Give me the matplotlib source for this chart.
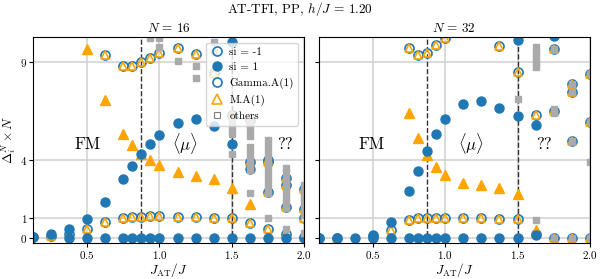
import matplotlib.pyplot as plt
from matplotlib.lines import Line2D

# --- data (Delta_i^N x N vs J_AT/J) ---
# N = 16
n16_si1_x = [0.125, 0.25, 0.375, 0.5, 0.625, 0.75, 0.8125, 0.875, 0.9375, 1.0,
             1.125, 1.25, 1.375, 1.5, 1.625,
             0.375, 0.5, 0.625, 0.75, 0.8125, 0.875, 0.9375, 1.0, 1.125, 1.25,
             1.375, 1.5, 1.625, 1.75, 1.875, 2.0, 1.5]
n16_si1_y = [0.08, 0.2, 0.45, 0.97, 1.85, 3.0, 3.67, 4.27, 4.8, 5.28,
             5.87, 6.05, 5.7, 4.8, 3.5,
             0, 0, 0, 0, 0, 0, 0, 0, 0, 0,
             0, 0, 0, 0, 0, 0, 10.0]
n16_sim1_x = [0.125, 0.25, 0.375, 0.5, 0.625, 0.75, 0.8125, 0.875, 0.9375, 1.0,
              1.125, 1.25, 1.375, 1.5, 1.625, 1.75, 1.875, 2.0,
              0.625, 0.75, 0.8125, 0.875, 0.9375, 1.0, 1.125, 1.25, 1.375,
              1.5, 1.625, 1.625, 1.75, 1.75, 1.75, 1.875, 1.875, 1.875,
              2.0, 2.0, 2.0]
n16_sim1_y = [0.05, 0.1, 0.22, 0.45, 0.8, 1.03, 1.08, 1.1, 1.12, 1.12,
              1.1, 1.07, 1.05, 1.0, 0.78, 0.45, 0.2, 0.05,
              9.36, 8.77, 8.8, 9.0, 9.2, 9.45, 9.69, 9.4, 8.4,
              6.26, 6.0, 3.88, 4.0, 3.87, 2.34, 3.05, 2.7, 1.58,
              2.5, 1.5, 1.0]
n16_m1_x = [0.5, 0.625, 0.75, 0.8125, 0.875, 0.9375, 1.0, 1.125, 1.25, 1.375,
            1.5, 1.625]
n16_m1_y = [9.65, 7.02, 5.29, 4.73, 4.27, 3.97, 3.75, 3.37, 3.17, 2.99,
            2.58, 1.75]
n16_oth_x = [0.9375, 1.0, 1.0, 1.125, 1.25, 1.25, 1.375, 1.375,
             1.5, 1.5, 1.5, 1.5,
             1.625, 1.625, 1.625, 1.625, 1.625, 1.625, 1.625, 1.625, 1.625, 1.625,
             1.75, 1.75, 1.75, 1.75, 1.75, 1.75, 1.75, 1.75, 1.75, 1.75, 1.75,
             1.875, 1.875, 1.875, 1.875, 1.875, 1.875, 1.875, 1.875, 1.875, 1.875,
             2.0, 2.0, 2.0, 2.0, 2.0, 2.0, 2.0, 2.0]
n16_oth_y = [10.2, 10.2, 9.75, 9.05, 8.8, 8.16, 10.0, 9.5,
             5.95, 5.6, 5.3, 4.27,
             5.75, 5.5, 5.2, 4.65, 4.35, 4.05, 3.75, 3.46, 2.3, 6.1,
             5.0, 4.7, 4.4, 4.1, 3.8, 3.5, 3.2, 2.9, 2.6, 2.3, 1.0,
             3.55, 3.3, 3.05, 2.8, 2.55, 2.3, 2.05, 1.8, 1.55, 0.45,
             2.7, 2.45, 2.2, 1.95, 1.7, 1.45, 1.2, 0.25]

# N = 32
n32_si1_x = [0.125, 0.25, 0.375, 0.5, 0.625, 0.75, 0.8125, 0.875, 0.9375, 1.0,
             1.125, 1.25, 1.375, 1.5,
             0.5, 0.625, 0.75, 0.8125, 0.875, 0.9375, 1.0, 1.125, 1.25, 1.375,
             1.5, 1.625, 1.5, 1.625, 1.75]
n32_si1_y = [0, 0, 0, 0, 0, 0, 0, 0, 0, 0,
             0, 0, 0, 0,
             0.15, 0.8, 2.39, 3.43, 4.43, 5.33, 6.07, 6.86, 6.99, 6.63,
             6.22, 5.79, 10.08, 0.15, 10.3]
n32_sim1_x = [0.125, 0.25, 0.5, 0.625, 0.75, 0.8125, 0.875, 0.9375, 1.0,
              1.125, 1.25, 1.375, 1.5, 1.625, 1.75, 1.875, 2.0,
              0.75, 0.8125, 0.875, 0.9375, 1.0, 1.375, 1.5, 1.625,
              1.75, 1.75, 1.875, 1.875, 1.875, 2.0, 2.0]
n32_sim1_y = [0.0, 0.02, 0.12, 0.4, 0.92, 1.03, 1.05, 1.05, 1.05,
              1.02, 1.0, 0.98, 0.97, 0.2, 0.0, 0.0, 0.0,
              9.7, 9.35, 9.45, 9.86, 10.2, 9.82, 8.45, 6.3,
              9.62, 6.5, 7.85, 7.45, 4.95, 8.35, 5.9]
n32_m1_x = [0.75, 0.8125, 0.875, 0.9375, 1.0, 1.125, 1.25, 1.375, 1.5, 1.625]
n32_m1_y = [6.38, 5.1, 4.22, 3.63, 3.24, 2.83, 2.7, 2.58, 2.24, 0.4]
n32_oth_x = [1.5, 1.625, 1.625, 1.625, 1.625, 1.625, 1.625,
             1.75, 1.75, 1.75, 1.75, 1.875, 1.875, 1.875, 1.875,
             2.0, 2.0, 2.0, 2.0]
n32_oth_y = [7.07, 9.75, 9.5, 9.25, 9.0, 8.75, 0.92,
             9.62, 6.6, 6.4, 0.0, 7.85, 7.45, 4.95, 0.0,
             8.35, 5.9, 3.9, 0.0]

sizes = [16, 32]
phase_lines = [0.875, 1.5]
y_ticks = [0, 1, 4, 9]
x_ticks = [0.5, 1.0, 1.5, 2.0]

plt.rcParams['font.family'] = 'serif'
plt.rcParams['font.serif'] = ['cmr10']
plt.rcParams['mathtext.fontset'] = 'cm'
plt.rcParams['axes.formatter.use_mathtext'] = True

blue = '#1f77b4'
orange = '#ffa500'
gray = '#aaaaaa'

fig, axes = plt.subplots(1, 2, figsize=(6, 2.79), dpi=100, sharey=True)
fig.subplots_adjust(left=0.055, right=0.983, bottom=0.129, top=0.867, wspace=0.055)

panels = [
    (n16_si1_x, n16_si1_y, n16_sim1_x, n16_sim1_y, n16_m1_x, n16_m1_y, n16_oth_x, n16_oth_y),
    (n32_si1_x, n32_si1_y, n32_sim1_x, n32_sim1_y, n32_m1_x, n32_m1_y, n32_oth_x, n32_oth_y),
]
text_pos = [(0.5, 1.18, 1.87), (0.49, 1.18, 1.68)]

for ax, N, data, tp in zip(axes, sizes, panels, text_pos):
    sx, sy, ox, oy, mx, my, gx, gy = data
    ax.grid(True, color='#d0d0d0', lw=1.1, zorder=0)
    ax.plot(ox, oy, 'o', ms=6.5, mfc='none', mec=blue, mew=1.2, ls='none', zorder=3)
    ax.plot(ox, oy, '^', ms=6, mfc='none', mec=orange, mew=1.2, ls='none', zorder=3)
    ax.plot(mx, my, '^', ms=7, color=orange, ls='none', zorder=3)
    ax.plot(sx, sy, 'o', ms=6.5, color=blue, ls='none', zorder=3)
    ax.plot(gx, gy, 's', ms=5, color=gray, ls='none', zorder=4)
    for xv in phase_lines:
        ax.axvline(xv, color='#333333', ls='--', lw=1, zorder=2)
    ax.text(tp[0], 4.8, 'FM', fontsize=12, ha='center', va='center')
    ax.text(tp[1], 4.8, r'$\langle\mu\rangle$', fontsize=12, ha='center', va='center')
    ax.text(tp[2], 4.8, '??', fontsize=12, ha='center', va='center')
    ax.set_xlim(0.125, 2.0)
    ax.set_ylim(-0.25, 10.25)
    ax.set_xticks(x_ticks)
    ax.set_yticks(y_ticks)
    ax.tick_params(labelsize=8, length=3, pad=1)
    ax.set_xlabel(r'$J_{\rm AT}/J$', fontsize=9.5)
    ax.xaxis.set_label_coords(0.5, -0.085)
    # panel title, placed by hand just above the top spine
    ax.text(0.5, 1.025, r'$N\,=\,%d$' % N, fontsize=9.5, ha='center',
            va='baseline', transform=ax.transAxes)
    for s in ax.spines.values():
        s.set_zorder(5)

axes[0].set_ylabel(r'$\Delta_i^N \times N$', fontsize=9.5)
axes[0].yaxis.set_label_coords(-0.055, 0.5)
axes[1].tick_params(labelleft=False)

handles = [
    Line2D([], [], marker='o', ls='none', ms=6.5, mfc='none', mec=blue, mew=1.2),
    Line2D([], [], marker='o', ls='none', ms=6.5, color=blue),
    Line2D([], [], marker='o', ls='none', ms=6.5, mfc='none', mec=blue, mew=1.2),
    Line2D([], [], marker='^', ls='none', ms=6.5, mfc='none', mec=orange, mew=1.2),
    Line2D([], [], marker='s', ls='none', ms=5, mfc='none', mec='gray', mew=0.8),
]
labels = ['si = -1', 'si = 1', 'Gamma.A(1)', 'M.A(1)', 'others']
leg = axes[0].legend(handles, labels, loc='upper right', fontsize=8,
                     framealpha=0.8, labelspacing=0.5, handletextpad=0.5,
                     borderpad=0.4, handlelength=1.2)
leg.set_zorder(10)

fig.text(0.5, 0.952, r'AT-TFI, PP, $h/J\,=\,1.20$', fontsize=9.5,
         ha='center', va='baseline')

fig.savefig('out.png', dpi=100)
